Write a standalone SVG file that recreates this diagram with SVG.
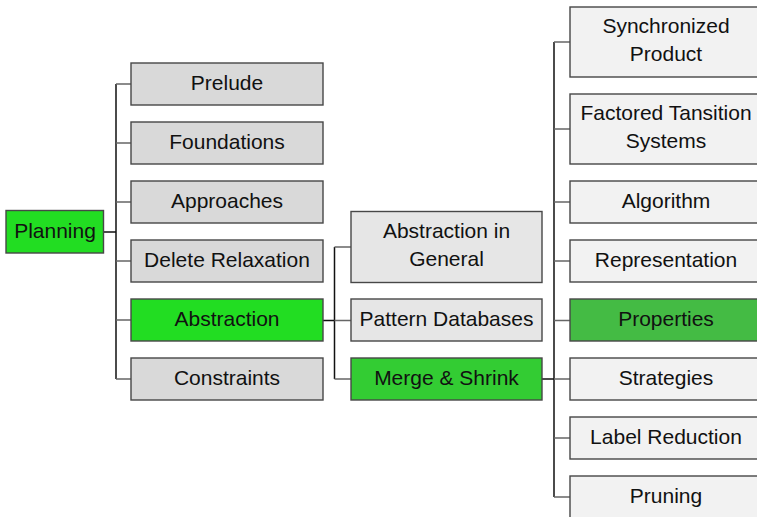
<svg xmlns="http://www.w3.org/2000/svg" width="757" height="517" viewBox="0 0 757 517">
<style>
.box{stroke:#474747;stroke-width:1.4}
.l1{fill:#d9d9d9}.l2{fill:#e6e6e6}.l3{fill:#f2f2f2}
.g1{fill:#22dd22}.g2{fill:#33cc33}.g3{fill:#44bb44}
text{font-family:"Liberation Sans",Arial,sans-serif;font-size:21px;fill:#111;text-anchor:middle}
.trunk{stroke:#111;stroke-width:1.5;fill:none}
.stub{stroke:#666;stroke-width:1.5;fill:none}
</style>
<rect width="757" height="517" fill="#fff"/>
<g id="connectors">
<path class="trunk" d="M104 232H116M116 84V379"/>
<path class="stub" d="M116 84H131M116 143H131M116 202H131M116 261H131M116 320H131M116 379H131"/>
<path class="trunk" d="M323 320.5H334.5M334.5 247V379"/>
<path class="stub" d="M334.5 247H351M334.5 320.5H351M334.5 379H351"/>
<path class="trunk" d="M542 379H554M554 42V497"/>
<path class="stub" d="M554 42H570M554 129H570M554 202H570M554 261H570M554 320.5H570M554 379H570M554 438H570M554 497H570"/>
</g>
<g id="planning"><rect class="box g1" x="6" y="210.5" width="97.5" height="42.5"/><text x="55" y="238">Planning</text></g>
<g id="prelude"><rect class="box l1" x="131" y="63" width="192" height="42"/><text x="227" y="90">Prelude</text></g>
<g id="foundations"><rect class="box l1" x="131" y="122" width="192" height="42"/><text x="227" y="149">Foundations</text></g>
<g id="approaches"><rect class="box l1" x="131" y="181" width="192" height="42"/><text x="227" y="208">Approaches</text></g>
<g id="delete-relaxation"><rect class="box l1" x="131" y="240" width="192" height="42"/><text x="227" y="267">Delete Relaxation</text></g>
<g id="abstraction"><rect class="box g1" x="131" y="299" width="192" height="42"/><text x="227" y="326">Abstraction</text></g>
<g id="constraints"><rect class="box l1" x="131" y="358" width="192" height="42"/><text x="227" y="385">Constraints</text></g>
<g id="abstraction-general"><rect class="box l2" x="351" y="211.5" width="191" height="71"/><text x="446.5" y="238">Abstraction in</text><text x="446.5" y="266">General</text></g>
<g id="pattern-databases"><rect class="box l2" x="351" y="299" width="191" height="42"/><text x="446.5" y="326">Pattern Databases</text></g>
<g id="merge-shrink"><rect class="box g2" x="351" y="358" width="191" height="42"/><text x="446.5" y="385">Merge &amp; Shrink</text></g>
<g id="synchronized-product"><rect class="box l3" x="570" y="7" width="192" height="70"/><text x="666" y="33">Synchronized</text><text x="666" y="61">Product</text></g>
<g id="factored-transition-systems"><rect class="box l3" x="570" y="94" width="192" height="70"/><text x="666" y="120">Factored Tansition</text><text x="666" y="148">Systems</text></g>
<g id="algorithm"><rect class="box l3" x="570" y="181" width="192" height="42"/><text x="666" y="208">Algorithm</text></g>
<g id="representation"><rect class="box l3" x="570" y="240" width="192" height="42"/><text x="666" y="267">Representation</text></g>
<g id="properties"><rect class="box g3" x="570" y="299" width="192" height="42"/><text x="666" y="326">Properties</text></g>
<g id="strategies"><rect class="box l3" x="570" y="358" width="192" height="42"/><text x="666" y="385">Strategies</text></g>
<g id="label-reduction"><rect class="box l3" x="570" y="417" width="192" height="42"/><text x="666" y="444">Label Reduction</text></g>
<g id="pruning"><rect class="box l3" x="570" y="476" width="192" height="42"/><text x="666" y="503">Pruning</text></g>
</svg>
